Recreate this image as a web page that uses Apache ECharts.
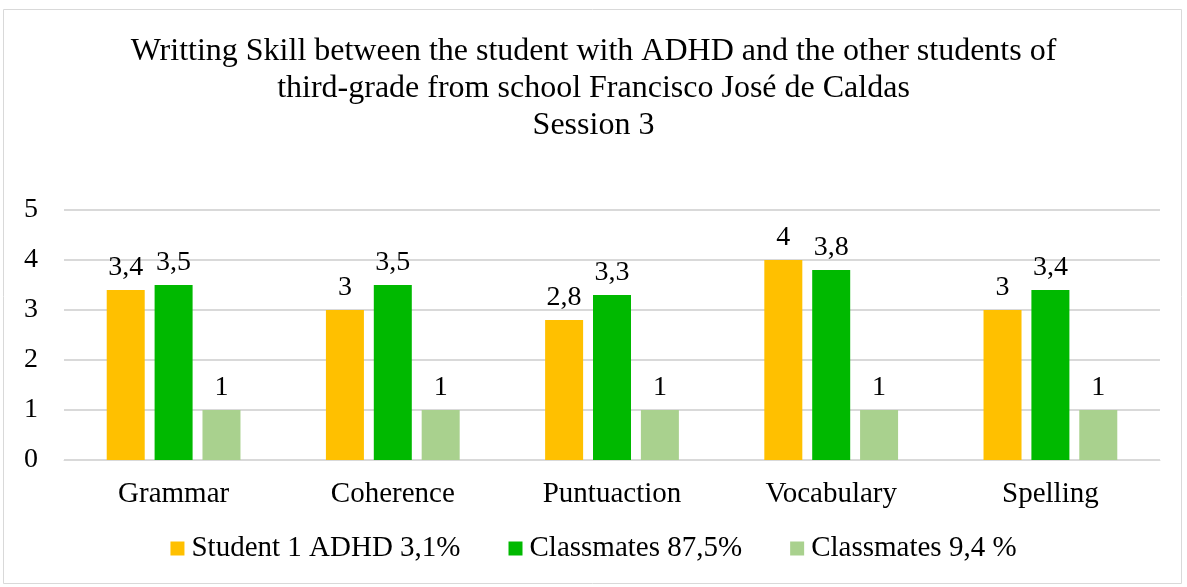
<!DOCTYPE html>
<html>
<head>
<meta charset="utf-8">
<script src="https://cdn.jsdelivr.net/npm/echarts@6/dist/echarts.min.js"></script>
<style>
  html, body { margin: 0; padding: 0; background: #fff; }
  #chart { width: 1187px; height: 587px; }
</style>
</head>
<body>
<div id="chart"></div>
<script>
var categories = ['Grammar', 'Coherence', 'Puntuaction', 'Vocabulary', 'Spelling'];
var studentAdhd = [3.4, 3, 2.8, 4, 3];
var classmates875 = [3.5, 3.5, 3.3, 3.8, 3.4];
var classmates94 = [1, 1, 1, 1, 1];
var yTicks = [0, 1, 2, 3, 4, 5];

var serif = 'Liberation Serif';

var chart = echarts.init(document.getElementById('chart'));

function barSeries(name, data, color) {
    return {
        name: name,
        type: 'bar',
        data: data,
        barWidth: 38,
        barGap: '26%',
        itemStyle: { color: color },
        label: {
            show: true,
            position: 'top',
            distance: 8,
            color: '#000',
            fontFamily: serif,
            fontSize: 28,
            formatter: function (p) {
                return String(p.value).replace('.', ',');
            }
        }
    };
}

var option = {
    animation: false,
    title: {
        text: 'Writting Skill between the student with ADHD and the other students of\nthird-grade from school Francisco José de Caldas\nSession 3',
        left: 'center',
        top: 28,
        textStyle: {
            color: '#000',
            fontFamily: serif,
            fontWeight: 'normal',
            fontSize: 32,
            lineHeight: 37
        }
    },
    legend: {
        bottom: 19,
        left: 'center',
        itemWidth: 14,
        itemHeight: 14,
        itemGap: 48,
        icon: 'rect',
        textStyle: { color: '#000', fontFamily: serif, fontSize: 29, padding: [0, 0, 0, 2] },
        data: ['Student 1 ADHD 3,1%', 'Classmates 87,5%', 'Classmates 9,4 %']
    },
    grid: {
        left: 64,
        right: 27,
        top: 210,
        bottom: 127,
        containLabel: false
    },
    xAxis: {
        type: 'category',
        data: categories,
        axisTick: { show: false },
        axisLine: { lineStyle: { color: '#d9d9d9', width: 1 } },
        axisLabel: { color: '#000', fontFamily: serif, fontSize: 29, margin: 20 }
    },
    yAxis: {
        type: 'value',
        min: yTicks[0],
        max: yTicks[yTicks.length - 1],
        interval: 1,
        axisLine: { show: false },
        axisTick: { show: false },
        splitLine: { lineStyle: { color: '#d9d9d9', width: 2 } },
        axisLabel: { color: '#000', fontFamily: serif, fontSize: 28, margin: 26 }
    },
    series: [
        barSeries('Student 1 ADHD 3,1%', studentAdhd, '#FFC000'),
        barSeries('Classmates 87,5%', classmates875, '#00B900'),
        barSeries('Classmates 9,4 %', classmates94, '#A9D18E')
    ],
    graphic: [{
        type: 'rect',
        shape: { x: 3.5, y: 9.5, width: 1178, height: 574 },
        style: { fill: 'none', stroke: '#d9d9d9', lineWidth: 1 },
        silent: true
    }]
};

chart.setOption(option);
</script>
</body>
</html>
